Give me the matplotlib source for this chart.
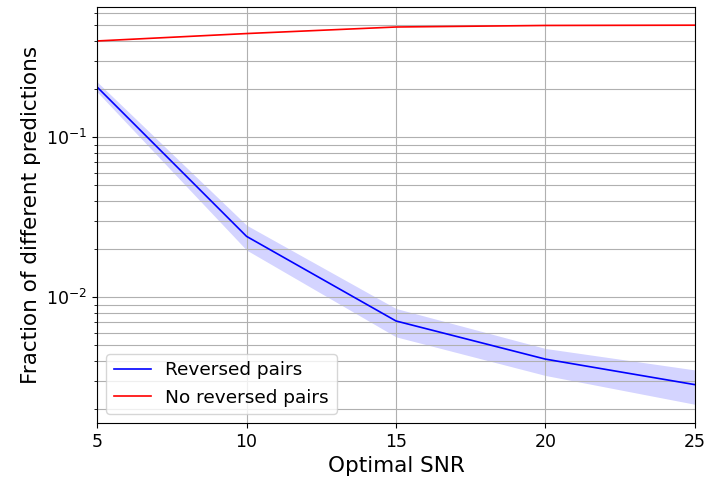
import matplotlib
matplotlib.use("Agg")
import matplotlib.pyplot as plt

snr = [5, 10, 15, 20, 25]

# fraction of different predictions, reversed pairs (mean and band)
rev_mean = [0.206, 0.024, 0.0071, 0.0041, 0.00284]
rev_low = [0.192, 0.0197, 0.00565, 0.00324, 0.00214]
rev_high = [0.222, 0.0282, 0.0085, 0.00478, 0.00351]

# no reversed pairs
norev_mean = [0.40, 0.445, 0.489, 0.50, 0.502]

fig = plt.figure(figsize=(7.04, 4.82), dpi=100)
ax = fig.add_axes([0.138, 0.122, 0.849, 0.863])

ax.plot(snr, rev_mean, color='b', lw=1.2, label='Reversed pairs')
ax.fill_between(snr, rev_low, rev_high, color='b', alpha=0.17, lw=0)
ax.plot(snr, norev_mean, color='r', lw=1.2, label='No reversed pairs')

ax.set_yscale('log')
ax.set_xlim(5, 25)
ax.set_ylim(0.00163, 0.65)
ax.set_xticks([5, 10, 15, 20, 25])
ax.grid(True, which='both')
ax.tick_params(labelsize=12.5)
ax.set_xlabel('Optimal SNR', fontsize=15.5)
ax.set_ylabel('Fraction of different predictions', fontsize=15.5)
ax.legend(loc='lower left', fontsize=13.3)

fig.savefig('out.png', dpi=100)
